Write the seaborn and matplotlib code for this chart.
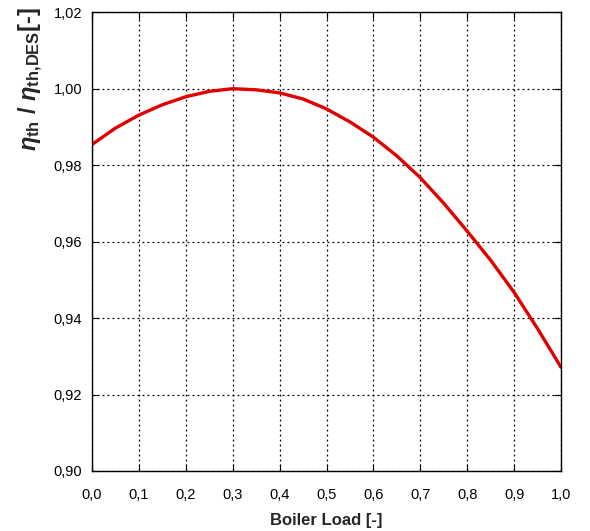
import numpy as np
import matplotlib
matplotlib.use("Agg")
import matplotlib.pyplot as plt
import seaborn as sns
import pandas as pd

# values
load = [0.0, 0.05, 0.1, 0.15, 0.2, 0.25, 0.3, 0.35, 0.4, 0.45, 0.5,
        0.55, 0.6, 0.65, 0.7, 0.75, 0.8, 0.85, 0.9, 0.95, 1.0]
eta_ratio = [0.9854, 0.9897, 0.9931, 0.9958, 0.9979, 0.9993, 1.0000, 0.9997,
             0.9989, 0.9973, 0.9947, 0.9913, 0.9873, 0.9824, 0.9767, 0.9700,
             0.9627, 0.9551, 0.9467, 0.9372, 0.9271]

x_ticks = [0.0, 0.1, 0.2, 0.3, 0.4, 0.5, 0.6, 0.7, 0.8, 0.9, 1.0]
x_labels = ["0,0", "0,1", "0,2", "0,3", "0,4", "0,5", "0,6", "0,7", "0,8", "0,9", "1,0"]
y_ticks = [0.90, 0.92, 0.94, 0.96, 0.98, 1.00, 1.02]
y_labels = ["0,90", "0,92", "0,94", "0,96", "0,98", "1,00", "1,02"]

sns.set_style("ticks")
plt.rcParams["font.family"] = ["Liberation Sans", "DejaVu Sans"]
plt.rcParams["mathtext.fontset"] = "custom"
plt.rcParams["mathtext.rm"] = "Liberation Sans:bold"
plt.rcParams["mathtext.bf"] = "Liberation Sans:bold"
plt.rcParams["mathtext.it"] = "Liberation Sans:bold:italic"

df = pd.DataFrame({"load": load, "eta": eta_ratio})

fig = plt.figure(figsize=(5.9, 5.31), dpi=100)
ax = fig.add_axes([0.156, 0.113, 0.795, 0.864])

sns.lineplot(data=df, x="load", y="eta", color="#e00000", linewidth=2.4, ax=ax)

ax.set_xlim(0, 1)
ax.set_ylim(0.90, 1.02)
ax.set_xticks(x_ticks)
ax.set_xticklabels(x_labels)
ax.set_yticks(y_ticks)
ax.set_yticklabels(y_labels)
ax.tick_params(direction="in", top=True, right=True, labelsize=10.5, length=5,
               colors="black")
ax.tick_params(axis="x", pad=12)
ax.tick_params(axis="y", pad=7)
ax.grid(True, linestyle=(0, (1.5, 2.5)), color="black", linewidth=0.9)
for s in ax.spines.values():
    s.set_color("black")
    s.set_linewidth(1.0)

ax.set_xlabel("Boiler Load [-]", fontsize=12, fontweight="bold", labelpad=8)
ax.set_ylabel(r"$\eta_{\mathrm{th}}$ / $\eta_{\mathrm{th{,}DES}}$[-]",
              fontsize=17, fontweight="bold")
ax.yaxis.set_label_coords(-0.10, 0.855)

fig.savefig("out.png", dpi=100)
